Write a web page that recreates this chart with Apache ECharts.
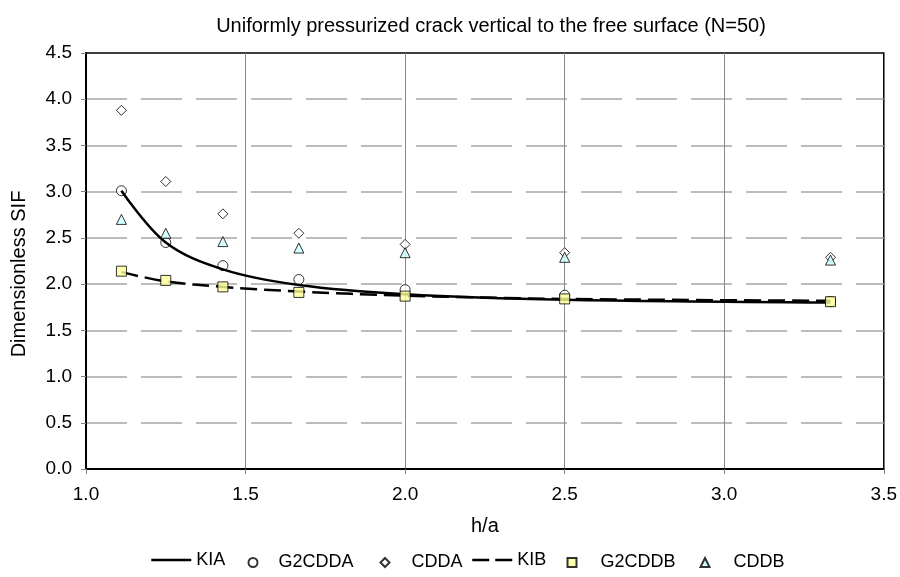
<!DOCTYPE html>
<html>
<head>
<meta charset="utf-8">
<script src="https://cdn.jsdelivr.net/npm/echarts@6/dist/echarts.min.js"></script>
<style>
  html, body { margin: 0; padding: 0; background: #ffffff; }
  #chart { width: 900px; height: 577px; }
</style>
</head>
<body>
<div id="chart"></div>
<script>
// h/a positions of the computed cases
const hOverA = [1.111, 1.25, 1.429, 1.667, 2.0, 2.5, 3.333];

// Dimensionless stress intensity factors
const kia    = [3.01, 2.45, 2.16, 1.99, 1.89, 1.83, 1.80];
const g2cdda = [3.01, 2.45, 2.20, 2.05, 1.94, 1.88, 1.81];
const cdda   = [3.88, 3.11, 2.76, 2.55, 2.43, 2.34, 2.29];
const kib    = [2.13, 2.03, 1.97, 1.92, 1.875, 1.84, 1.82];
const g2cddb = [2.14, 2.04, 1.97, 1.91, 1.87, 1.84, 1.81];
const cddb   = [2.70, 2.55, 2.46, 2.39, 2.34, 2.29, 2.26];

const seriesNames = ['KIA', 'G2CDDA', 'CDDA', 'KIB', 'G2CDDB', 'CDDB'];

const FONT = '"Liberation Sans", Arial, sans-serif';
const pts = ys => hOverA.map((x, i) => [x, ys[i]]);

const chart = echarts.init(document.getElementById('chart'), null, { renderer: 'canvas' });

// one legend block per entry so every key sits where it belongs
const LEGEND_MID = 558;
function lineKey(name, left, dash) {
  return {
    left: left, top: LEGEND_MID - 7, itemWidth: 40, itemHeight: 14, padding: 0,
    selectedMode: false, data: [name],
    itemStyle: { color: 'transparent', borderWidth: 0 },
    lineStyle: { color: '#000', width: 2.5, type: dash },
    textStyle: { fontFamily: FONT, fontSize: 18, color: '#000' }
  };
}
function symbolKey(name, centre, gap) {
  return {
    left: centre - 4.5, top: LEGEND_MID - 4.5, itemWidth: 9, itemHeight: 9, padding: 0,
    selectedMode: false, data: [name],
    textStyle: { fontFamily: FONT, fontSize: 18, color: '#000', padding: [0, 0, 0, gap] }
  };
}

chart.setOption({
  animation: false,
  backgroundColor: '#ffffff',
  title: {
    text: 'Uniformly pressurized crack vertical to the free surface (N=50)',
    left: 486,
    top: 11,
    textAlign: 'center',
    textStyle: { fontFamily: FONT, fontSize: 20, fontWeight: 'normal', color: '#000' }
  },
  legend: [
    lineKey(seriesNames[0], 150, 'solid'),
    symbolKey(seriesNames[1], 252, 16),
    symbolKey(seriesNames[2], 384, 17),
    lineKey(seriesNames[3], 471, [17, 6]),
    symbolKey(seriesNames[4], 571, 19),
    symbolKey(seriesNames[5], 704, 19)
  ],
  grid: {
    left: 86, right: 14, top: 53, bottom: 108,
    show: true, borderColor: '#000', borderWidth: 1.5, backgroundColor: 'transparent'
  },
  xAxis: {
    type: 'value',
    min: 1.0, max: 3.5, interval: 0.5,
    name: 'h/a',
    nameLocation: 'middle',
    nameGap: 47,
    nameTextStyle: { fontFamily: FONT, fontSize: 20, color: '#000' },
    axisLine: { show: true, onZero: false, lineStyle: { color: '#000', width: 2 } },
    axisTick: { show: true, length: 5, lineStyle: { color: '#808080' } },
    axisLabel: { fontFamily: FONT, fontSize: 19, color: '#000', margin: 16, formatter: v => v.toFixed(1) },
    splitLine: { show: true, showMinLine: false, showMaxLine: false, lineStyle: { color: '#8a8a8a', width: 1 } }
  },
  yAxis: {
    type: 'value',
    min: 0, max: 4.5, interval: 0.5,
    name: 'Dimensionless SIF',
    nameLocation: 'middle',
    nameGap: 57,
    nameRotate: 90,
    nameTextStyle: { fontFamily: FONT, fontSize: 20, color: '#000', padding: [0, 26, 0, 0] },
    axisLine: { show: true, lineStyle: { color: '#000', width: 2 } },
    axisTick: { show: true, length: 5, lineStyle: { color: '#808080' } },
    axisLabel: { fontFamily: FONT, fontSize: 19, color: '#000', margin: 14, formatter: v => v.toFixed(1) },
    splitLine: { show: true, showMinLine: false, showMaxLine: false, lineStyle: { color: '#a6a6a6', width: 1.5, type: [41, 14] } }
  },
  series: [
    {
      name: 'KIA', type: 'line', data: pts(kia), smooth: 0.35,
      symbol: 'none', z: 3,
      lineStyle: { color: '#000', width: 2.5 }, itemStyle: { color: '#000' }
    },
    {
      name: 'G2CDDA', type: 'scatter', data: pts(g2cdda), symbol: 'circle', symbolSize: 10, z: 2,
      itemStyle: { color: '#ffffff', borderColor: '#000', borderWidth: 1 }
    },
    {
      name: 'CDDA', type: 'scatter', data: pts(cdda), symbol: 'diamond', symbolSize: 10, z: 2,
      itemStyle: { color: '#ffffff', borderColor: '#000', borderWidth: 1 }
    },
    {
      name: 'KIB', type: 'line', data: pts(kib), smooth: 0.35,
      symbol: 'none', z: 3,
      lineStyle: { color: '#000', width: 2.5, type: [17, 7] }, itemStyle: { color: '#000' }
    },
    {
      name: 'G2CDDB', type: 'scatter', data: pts(g2cddb), symbol: 'rect', symbolSize: 10, z: 5,
      itemStyle: { color: '#ffff99', borderColor: '#000', borderWidth: 1 }
    },
    {
      name: 'CDDB', type: 'scatter', data: pts(cddb), symbol: 'triangle', symbolSize: 10, z: 6,
      itemStyle: { color: '#ccffff', borderColor: '#000', borderWidth: 1 }
    }
  ]
});
</script>
</body>
</html>
